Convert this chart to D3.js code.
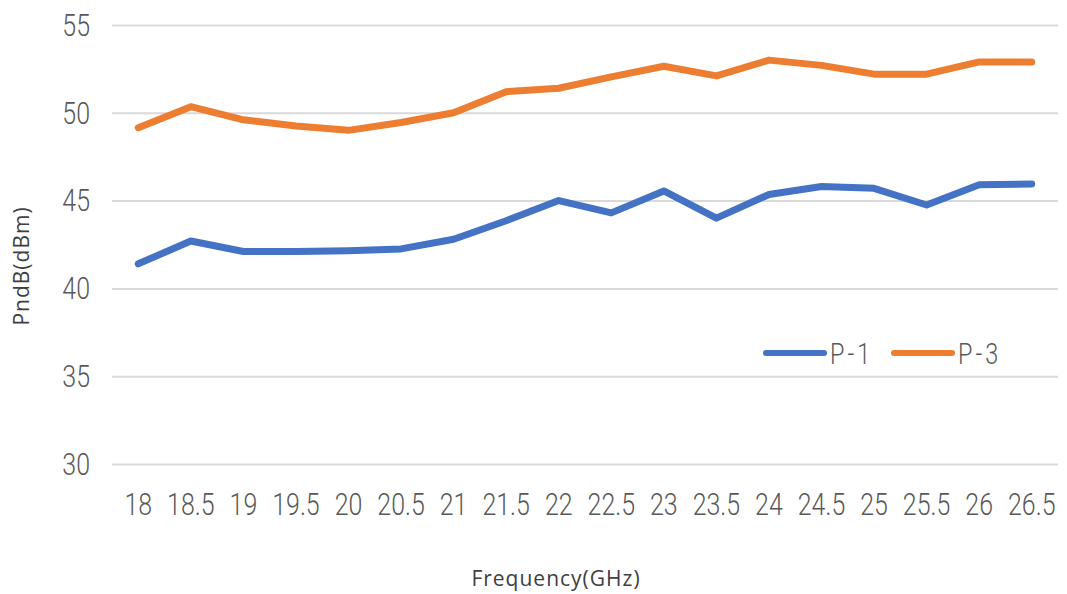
<!DOCTYPE html>
<meta charset="utf-8">
<style>
  body { margin: 0; background: #fff; }
  .tick text { fill: #595959; font-family: Roboto, "Liberation Sans", sans-serif; font-weight: 300; }
  .grid line { stroke: #d9d9d9; stroke-width: 2; }
  .title { fill: #404040; font-family: "Open Sans", "Noto Sans", sans-serif; font-size: 21px; letter-spacing: 1px; }
</style>
<body>
<svg width="1067" height="594"></svg>

<script src="https://cdn.jsdelivr.net/npm/d3@7"></script>
<script>

// Frequency points (GHz)
var freqs = ["18", "18.5", "19", "19.5", "20", "20.5", "21", "21.5", "22",
             "22.5", "23", "23.5", "24", "24.5", "25", "25.5", "26", "26.5"];

var p1 = [41.4, 42.7, 42.1, 42.1, 42.15, 42.25, 42.8, 43.85, 45.0,
          44.3, 45.55, 44.0, 45.35, 45.8, 45.7, 44.75, 45.9, 45.95];
var p3 = [49.15, 50.35, 49.6, 49.25, 49.0, 49.45, 50.0, 51.2, 51.4,
          52.05, 52.65, 52.1, 53.0, 52.7, 52.2, 52.2, 52.9, 52.9];

var yTicks = [30, 35, 40, 45, 50, 55];

var series = [
  {name: "P-1", values: p1, color: "#4472c4"},
  {name: "P-3", values: p3, color: "#ed7d31"}
];

var svg = d3.select("svg"),
    margin = {top: 25, right: 9, bottom: 130, left: 112},
    width  = +svg.attr("width") - margin.left - margin.right,
    height = +svg.attr("height") - margin.top - margin.bottom;

// the labels in the original are a narrow face, squeeze them a bit
var squeeze = 0.78;

var x = d3.scaleBand().domain(freqs).range([0, width]);
var y = d3.scaleLinear().domain([30, 55]).range([height, 0]);

var g = svg.append("g")
    .attr("transform", "translate(" + margin.left + "," + margin.top + ")");

// gridlines + y labels
var yAxis = d3.axisLeft(y).tickValues(yTicks).tickSize(-width).tickPadding(22);
g.append("g")
    .attr("class", "grid")
    .call(yAxis)
    .call(function(a) { a.select(".domain").remove(); })
    .selectAll("text")
    .style("font-size", "32px")
    .attr("x", -22 / squeeze)
    .attr("transform", "scale(" + squeeze + ",1)");

// x labels
g.append("g")
    .attr("transform", "translate(0," + height + ")")
    .call(d3.axisBottom(x).tickSize(0).tickPadding(28))
    .call(function(a) { a.select(".domain").remove(); })
    .selectAll("text")
    .style("font-size", "32px")
    .attr("transform", "scale(" + squeeze + ",1)");

var line = d3.line()
    .x(function(d, i) { return x(freqs[i]) + x.bandwidth() / 2; })
    .y(function(d) { return y(d); });

series.forEach(function(s) {
  g.append("path")
      .datum(s.values)
      .attr("fill", "none")
      .attr("stroke", s.color)
      .attr("stroke-width", 7)
      .attr("stroke-linejoin", "round")
      .attr("stroke-linecap", "round")
      .attr("d", line);
});

// legend
var legend = svg.append("g").attr("transform", "translate(766,353)");
series.forEach(function(s, i) {
  var lg = legend.append("g").attr("transform", "translate(" + (i * 128) + ",0)");
  lg.append("line")
      .attr("x1", 0).attr("x2", 58)
      .attr("stroke", s.color)
      .attr("stroke-width", 6)
      .attr("stroke-linecap", "round");
  lg.append("text")
      .attr("transform", "translate(64,0) scale(" + squeeze + ",1)")
      .attr("dy", "0.36em")
      .attr("fill", "#595959")
      .style("font-family", "Roboto, sans-serif")
      .style("font-weight", 300)
      .style("font-size", "30px")
      .style("letter-spacing", "4px")
      .text(s.name);
});

// axis titles
svg.append("text")
    .attr("class", "title")
    .attr("x", 556)
    .attr("y", 586)
    .attr("text-anchor", "middle")
    .text("Frequency(GHz)");

svg.append("text")
    .attr("class", "title")
    .attr("transform", "translate(29,266) rotate(-90)")
    .attr("text-anchor", "middle")
    .text("PndB(dBm)");

</script>
</body>
